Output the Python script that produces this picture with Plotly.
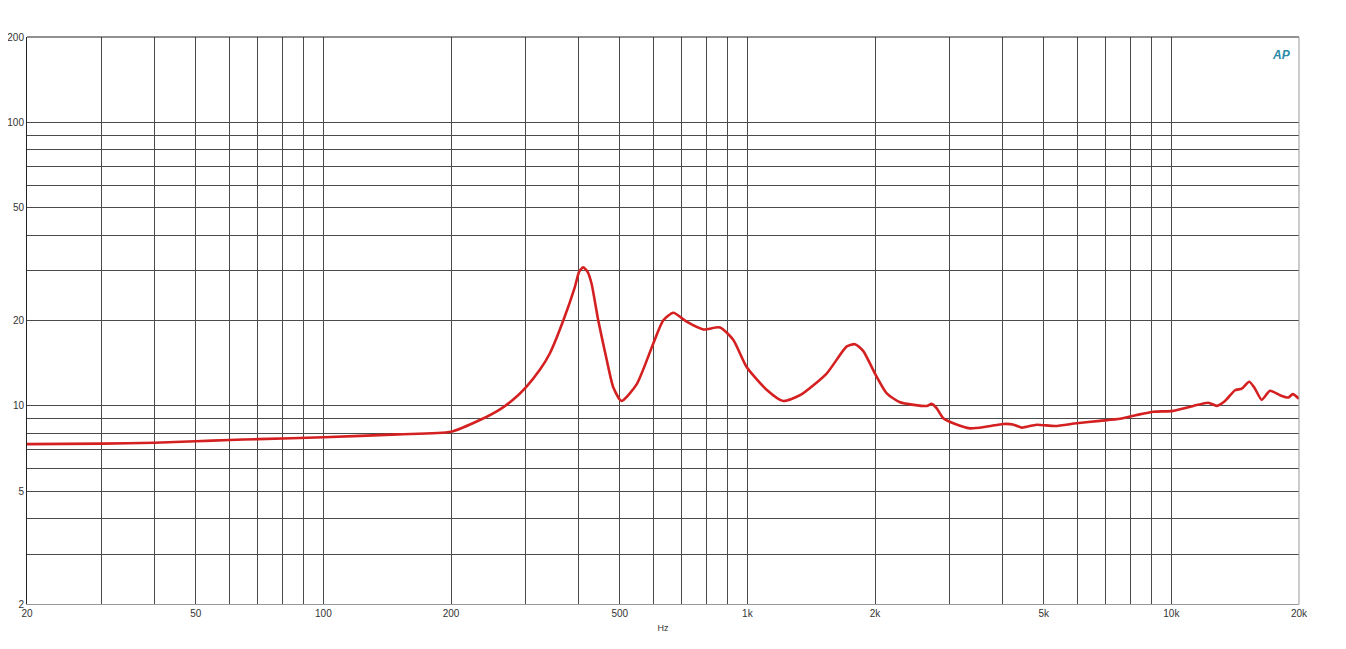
import plotly.graph_objects as go

# Impedance curve (Ohm) vs frequency (Hz)
freq = [20, 30, 40, 50, 60, 70, 100, 150, 200, 234, 261, 280, 300, 324, 342, 368, 392, 401,
        410, 420, 429, 445, 466, 483, 505, 548, 600, 633, 669, 719, 787, 862, 926, 996,
        1110, 1215, 1331, 1538, 1716, 1795, 1877, 2000, 2132, 2291, 2648, 2720, 2797,
        2898, 3060, 3350, 3668, 4014, 4230, 4436, 4812, 5316, 5981, 6788, 7566, 8284,
        9068, 10104, 11264, 12222, 12796, 13382, 14130, 14655, 15268, 15748, 16332,
        17086, 18050, 18880, 19330, 20000]
impedance = [7.33, 7.36, 7.41, 7.5, 7.58, 7.63, 7.75, 7.93, 8.1, 8.91, 9.72, 10.5, 11.6, 13.4, 15.3, 20.0, 26.3, 29.7,
             30.8, 29.7, 27.0, 20.0, 14.5, 11.6, 10.4, 11.9, 16.6, 20.0, 21.3, 19.8, 18.6, 18.9, 17.1, 13.7,
             11.4, 10.4, 10.9, 13.0, 16.2, 16.5, 15.6, 13.0, 11.07, 10.3, 9.99, 10.16, 9.8,
             9.04, 8.68, 8.33, 8.45, 8.63, 8.6, 8.38, 8.58, 8.49, 8.68, 8.85, 9.0, 9.28,
             9.53, 9.6, 9.99, 10.26, 10.0, 10.4, 11.35, 11.5, 12.16, 11.5, 10.5,
             11.3, 10.9, 10.7, 11.0, 10.6]

x_grid = [20, 30, 40, 50, 60, 70, 80, 90, 100, 200, 300, 400, 500, 600, 700, 800, 900,
          1000, 2000, 3000, 4000, 5000, 6000, 7000, 8000, 9000, 10000, 20000]
x_labels = {20: "20", 50: "50", 100: "100", 200: "200", 500: "500", 1000: "1k",
            2000: "2k", 5000: "5k", 10000: "10k", 20000: "20k"}
y_grid = [2, 3, 4, 5, 6, 7, 8, 9, 10, 20, 30, 40, 50, 60, 70, 80, 90, 100, 200]
y_labels = {2: "2", 5: "5", 10: "10", 20: "20", 50: "50", 100: "100", 200: "200"}

fig = go.Figure()
fig.add_trace(go.Scatter(
    x=freq, y=impedance, mode="lines",
    line=dict(color="#d42020", width=2.6, shape="spline", smoothing=0.6),
    hoverinfo="x+y", showlegend=False,
))

font = dict(family="Liberation Sans, Arial, sans-serif", size=10, color="#333333")

fig.update_layout(
    width=1346, height=649,
    margin=dict(l=19, r=55, t=29, b=53),
    paper_bgcolor="white", plot_bgcolor="white",
    font=font,
    xaxis=dict(
        type="log", range=[1.30103, 4.30103], automargin=False,
        tickvals=x_grid, ticktext=[x_labels.get(v, "") for v in x_grid],
        showgrid=True, gridcolor="#4a4a4a", gridwidth=1,
        showline=True, linecolor="#999999", linewidth=1,
        ticks="", zeroline=False, tickfont=font,
        title=dict(text="Hz", font=dict(family="Liberation Sans, Arial, sans-serif", size=9, color="#333333"), standoff=6),
    ),
    yaxis=dict(
        type="log", range=[0.30103, 2.30103], automargin=False,
        tickvals=y_grid, ticktext=[y_labels.get(v, "") for v in y_grid],
        showgrid=True, gridcolor="#4a4a4a", gridwidth=1,
        showline=True, linecolor="#222222", linewidth=1,
        ticks="", zeroline=False, tickfont=font, ticklabelstandoff=0,
    ),
    shapes=[
        dict(type="line", xref="paper", yref="paper", x0=0, x1=1, y0=1, y1=1,
             line=dict(color="#222222", width=1)),
        dict(type="line", xref="paper", yref="paper", x0=1, x1=1, y0=0, y1=1,
             line=dict(color="#999999", width=1)),
    ],
    annotations=[
        dict(text="<i><b>AP</b></i>", xref="paper", yref="paper", x=0.995, y=0.985,
             xanchor="right", yanchor="top", showarrow=False,
             font=dict(family="Liberation Sans, Arial, sans-serif", size=12, color="#2a8aa8")),
    ],
)

fig.write_html("out.html")
